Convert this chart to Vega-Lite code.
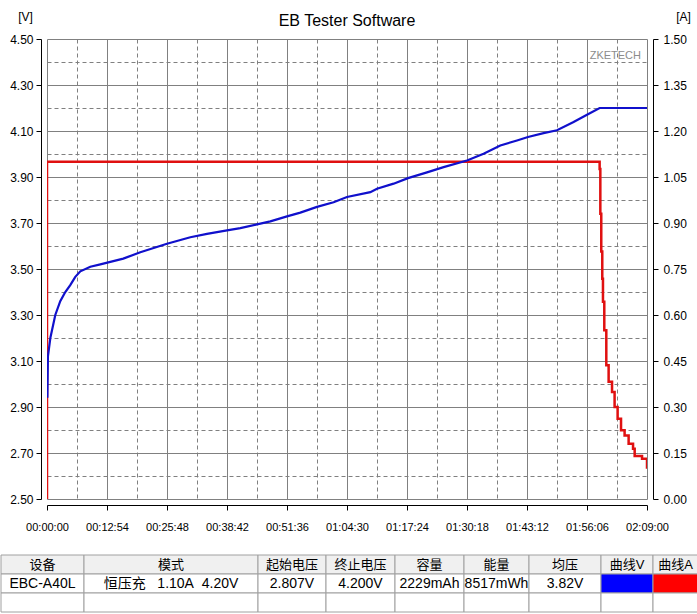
{
  "$schema": "https://vega.github.io/schema/vega-lite/v6.json",
  "background": "white",
  "padding": {"left": 0, "top": 10, "right": 0, "bottom": 0},
  "spacing": 22,
  "config": {
    "view": {"stroke": null},
    "font": "Liberation Sans",
    "axis": {"labelFont": "Liberation Sans", "titleFont": "Liberation Sans", "labelColor": "black", "titleColor": "black", "titleFontWeight": "normal"}
  },
  "vconcat": [
    {
      "width": 600,
      "height": 460,
      "title": {"text": "EB Tester Software", "fontSize": 16, "fontWeight": "normal", "color": "black", "anchor": "middle", "frame": "group", "offset": -19, "font": "Liberation Sans"},
      "layer": [
        {
          "data": {"values": [
            {"t": 0, "i": 0}, {"t": 0, "i": 1.10}, {"t": 7121, "i": 1.10}, {"t": 7129, "i": 1.076},
            {"t": 7138, "i": 0.93}, {"t": 7150, "i": 0.807}, {"t": 7163, "i": 0.718}, {"t": 7172, "i": 0.643},
            {"t": 7189, "i": 0.55}, {"t": 7215, "i": 0.436}, {"t": 7245, "i": 0.382}, {"t": 7289, "i": 0.349},
            {"t": 7322, "i": 0.30}, {"t": 7361, "i": 0.262}, {"t": 7405, "i": 0.224}, {"t": 7451, "i": 0.207},
            {"t": 7503, "i": 0.18}, {"t": 7560, "i": 0.164}, {"t": 7581, "i": 0.14}, {"t": 7645, "i": 0.14},
            {"t": 7676, "i": 0.131}, {"t": 7728, "i": 0.131}, {"t": 7740, "i": 0.099}
          ]},
          "mark": {"type": "line", "color": "#e01010", "strokeWidth": 2.5, "interpolate": "step-after", "clip": true},
          "encoding": {
            "x": {"field": "t", "type": "quantitative", "scale": {"domain": [0, 7740], "nice": false, "zero": false},
              "axis": {"values": [0, 387, 774, 1161, 1548, 1935, 2322, 2709, 3096, 3483, 3870, 4257, 4644, 5031, 5418, 5805, 6192, 6579, 6966, 7353, 7740],
                "labelExpr": "datum.value % 774 == 0 ? utcFormat(datum.value * 1000, '%H:%M:%S') : ''",
                "grid": true, "gridColor": "#808080", "gridWidth": 1,
                "gridDash": {"condition": {"test": "datum.value % 774 != 0", "value": [4, 3]}, "value": []},
                "tickOpacity": {"condition": {"test": "datum.value % 774 != 0", "value": 0}, "value": 1},
                "offset": 6, "domainColor": "black", "tickColor": "black", "tickSize": 5, "labelPadding": 11, "labelFontSize": 11,
                "labelOverlap": false, "labelFlush": false, "title": null}},
            "y": {"field": "i", "type": "quantitative", "scale": {"domain": [0, 1.5], "nice": false},
              "axis": {"orient": "right", "values": [0, 0.15, 0.3, 0.45, 0.6, 0.75, 0.9, 1.05, 1.2, 1.35, 1.5], "format": ".2f",
                "grid": false, "offset": 6, "domainColor": "black", "tickColor": "black", "tickSize": 5, "labelPadding": 5, "labelFontSize": 12,
                "title": "[A]", "titleFontSize": 12, "titleAngle": 0, "titleAlign": "center", "titleBaseline": "alphabetic", "titleX": 30, "titleY": -19}},
            "order": {"value": null}
          }
        },
        {
          "data": {"values": [
            {"t": 5, "v": 2.94}, {"t": 12, "v": 3.12}, {"t": 43, "v": 3.20}, {"t": 107, "v": 3.30}, {"t": 171, "v": 3.36},
            {"t": 236, "v": 3.40}, {"t": 300, "v": 3.43}, {"t": 365, "v": 3.466}, {"t": 430, "v": 3.49}, {"t": 559, "v": 3.51},
            {"t": 688, "v": 3.52}, {"t": 984, "v": 3.545}, {"t": 1204, "v": 3.573}, {"t": 1548, "v": 3.61}, {"t": 1849, "v": 3.638},
            {"t": 2064, "v": 3.653}, {"t": 2322, "v": 3.668}, {"t": 2494, "v": 3.678}, {"t": 2709, "v": 3.694}, {"t": 2881, "v": 3.707},
            {"t": 3096, "v": 3.729}, {"t": 3268, "v": 3.745}, {"t": 3483, "v": 3.77}, {"t": 3697, "v": 3.79}, {"t": 3870, "v": 3.813},
            {"t": 4171, "v": 3.834}, {"t": 4257, "v": 3.849}, {"t": 4471, "v": 3.871}, {"t": 4657, "v": 3.895}, {"t": 4902, "v": 3.92},
            {"t": 5116, "v": 3.943}, {"t": 5418, "v": 3.972}, {"t": 5632, "v": 4.001}, {"t": 5848, "v": 4.037}, {"t": 6063, "v": 4.059},
            {"t": 6205, "v": 4.074}, {"t": 6406, "v": 4.091}, {"t": 6579, "v": 4.103}, {"t": 6793, "v": 4.139}, {"t": 6966, "v": 4.171},
            {"t": 7129, "v": 4.20}, {"t": 7740, "v": 4.20}
          ]},
          "mark": {"type": "line", "color": "#1010cc", "strokeWidth": 2.2, "clip": true},
          "encoding": {
            "x": {"field": "t", "type": "quantitative", "scale": {"domain": [0, 7740], "nice": false, "zero": false},
              "axis": {"values": [0, 387, 774, 1161, 1548, 1935, 2322, 2709, 3096, 3483, 3870, 4257, 4644, 5031, 5418, 5805, 6192, 6579, 6966, 7353, 7740],
                "labelExpr": "datum.value % 774 == 0 ? utcFormat(datum.value * 1000, '%H:%M:%S') : ''",
                "grid": true, "gridColor": "#808080", "gridWidth": 1,
                "gridDash": {"condition": {"test": "datum.value % 774 != 0", "value": [4, 3]}, "value": []},
                "tickOpacity": {"condition": {"test": "datum.value % 774 != 0", "value": 0}, "value": 1},
                "offset": 6, "domainColor": "black", "tickColor": "black", "tickSize": 5, "labelPadding": 11, "labelFontSize": 11,
                "labelOverlap": false, "labelFlush": false, "title": null}},
            "y": {"field": "v", "type": "quantitative", "scale": {"domain": [2.5, 4.5], "nice": false, "zero": false},
              "axis": {"orient": "left", "values": [2.5, 2.6, 2.7, 2.8, 2.9, 3.0, 3.1, 3.2, 3.3, 3.4, 3.5, 3.6, 3.7, 3.8, 3.9, 4.0, 4.1, 4.2, 4.3, 4.4, 4.5],
                "format": ".2f", "labelExpr": "round(datum.value * 10) % 2 == 1 ? datum.label : ''",
                "grid": true, "gridColor": "#808080", "gridWidth": 1,
                "gridDash": {"condition": {"test": "round(datum.value * 10) % 2 == 0", "value": [4, 3]}, "value": []},
                "tickOpacity": {"condition": {"test": "round(datum.value * 10) % 2 == 0", "value": 0}, "value": 1},
                "offset": 6, "domainColor": "black", "tickColor": "black", "tickSize": 5, "labelPadding": 3, "labelFontSize": 12,
                "labelOverlap": false, "minExtent": 40,
                "title": "[V]", "titleFontSize": 12, "titleAngle": 0, "titleAlign": "center", "titleBaseline": "alphabetic", "titleX": -16, "titleY": -19}},
            "order": {"value": null}
          }
        },
        {
          "data": {"values": [{"label": "ZKETECH"}]},
          "mark": {"type": "text", "align": "right", "baseline": "middle", "dx": -6, "dy": 17, "color": "#8c8c8c", "fontSize": 11, "font": "Liberation Sans"},
          "encoding": {
            "x": {"datum": 7740, "type": "quantitative", "scale": {"domain": [0, 7740], "nice": false, "zero": false},
              "axis": {"values": [0, 387, 774, 1161, 1548, 1935, 2322, 2709, 3096, 3483, 3870, 4257, 4644, 5031, 5418, 5805, 6192, 6579, 6966, 7353, 7740],
                "labelExpr": "datum.value % 774 == 0 ? utcFormat(datum.value * 1000, '%H:%M:%S') : ''",
                "grid": true, "gridColor": "#808080", "gridWidth": 1,
                "gridDash": {"condition": {"test": "datum.value % 774 != 0", "value": [4, 3]}, "value": []},
                "tickOpacity": {"condition": {"test": "datum.value % 774 != 0", "value": 0}, "value": 1},
                "offset": 6, "domainColor": "black", "tickColor": "black", "tickSize": 5, "labelPadding": 11, "labelFontSize": 11,
                "labelOverlap": false, "labelFlush": false, "title": null}},
            "y": {"datum": 4.5, "type": "quantitative", "scale": {"domain": [2.5, 4.5], "nice": false, "zero": false}, "axis": null},
            "text": {"field": "label"}
          }
        }
      ],
      "resolve": {"scale": {"y": "independent"}, "axis": {"y": "independent"}}
    },
    {
      "width": 600,
      "height": 57,
      "data": {"values": [
        {"r": 0, "c": 0, "k": "head", "s": "设备"}, {"r": 0, "c": 1, "k": "head", "s": "模式"}, {"r": 0, "c": 2, "k": "head", "s": "起始电压"},
        {"r": 0, "c": 3, "k": "head", "s": "终止电压"}, {"r": 0, "c": 4, "k": "head", "s": "容量"}, {"r": 0, "c": 5, "k": "head", "s": "能量"},
        {"r": 0, "c": 6, "k": "head", "s": "均压"}, {"r": 0, "c": 7, "k": "head", "s": "曲线V"}, {"r": 0, "c": 8, "k": "head", "s": "曲线A"},
        {"r": 1, "c": 0, "k": "body", "s": "EBC-A40L"}, {"r": 1, "c": 1, "k": "body", "s": "恒压充\u00a0\u00a0\u00a01.10A\u00a0\u00a04.20V"}, {"r": 1, "c": 2, "k": "body", "s": "2.807V"},
        {"r": 1, "c": 3, "k": "body", "s": "4.200V"}, {"r": 1, "c": 4, "k": "body", "s": "2229mAh"}, {"r": 1, "c": 5, "k": "body", "s": "8517mWh"},
        {"r": 1, "c": 6, "k": "body", "s": "3.82V"}, {"r": 1, "c": 7, "k": "V", "s": ""}, {"r": 1, "c": 8, "k": "A", "s": ""},
        {"r": 2, "c": 0, "k": "body", "s": ""}, {"r": 2, "c": 1, "k": "body", "s": ""}, {"r": 2, "c": 2, "k": "body", "s": ""},
        {"r": 2, "c": 3, "k": "body", "s": ""}, {"r": 2, "c": 4, "k": "body", "s": ""}, {"r": 2, "c": 5, "k": "body", "s": ""},
        {"r": 2, "c": 6, "k": "body", "s": ""}, {"r": 2, "c": 7, "k": "body", "s": ""}, {"r": 2, "c": 8, "k": "body", "s": ""}
      ]},
      "transform": [
        {"calculate": "datum.c + 1", "as": "c1"},
        {"calculate": "datum.c + 0.5", "as": "cm"},
        {"calculate": "datum.r + 1", "as": "r1"},
        {"calculate": "datum.r + 0.5", "as": "rm"}
      ],
      "layer": [
        {
          "mark": {"type": "rect", "stroke": "#a0a0a0", "strokeWidth": 1},
          "encoding": {
            "x": {"field": "c", "type": "quantitative", "scale": {"domain": [0, 1, 2, 3, 4, 5, 6, 7, 8, 9], "range": [-46, 37, 211, 279, 348, 417, 482, 554, 606, 651]}, "axis": null},
            "x2": {"field": "c1"},
            "y": {"field": "r", "type": "quantitative", "scale": {"domain": [0, 3], "range": [0, 57]}, "axis": null},
            "y2": {"field": "r1"},
            "fill": {"field": "k", "type": "nominal", "scale": {"domain": ["head", "body", "V", "A"], "range": ["#f0f0f0", "#ffffff", "#0000ff", "#ff0000"]}, "legend": null}
          }
        },
        {
          "transform": [{"filter": "datum.r == 0"}],
          "mark": {"type": "text", "align": "center", "baseline": "middle", "fontSize": 13, "font": "Liberation Sans, Noto Sans CJK SC", "color": "black"},
          "encoding": {
            "x": {"field": "cm", "type": "quantitative", "axis": null},
            "y": {"field": "rm", "type": "quantitative", "axis": null},
            "text": {"field": "s"}
          }
        },
        {
          "transform": [{"filter": "datum.r > 0"}],
          "mark": {"type": "text", "align": "center", "baseline": "middle", "fontSize": 14, "font": "Liberation Sans, Noto Sans CJK SC", "color": "black"},
          "encoding": {
            "x": {"field": "cm", "type": "quantitative", "axis": null},
            "y": {"field": "rm", "type": "quantitative", "axis": null},
            "text": {"field": "s"}
          }
        }
      ]
    }
  ]
}
